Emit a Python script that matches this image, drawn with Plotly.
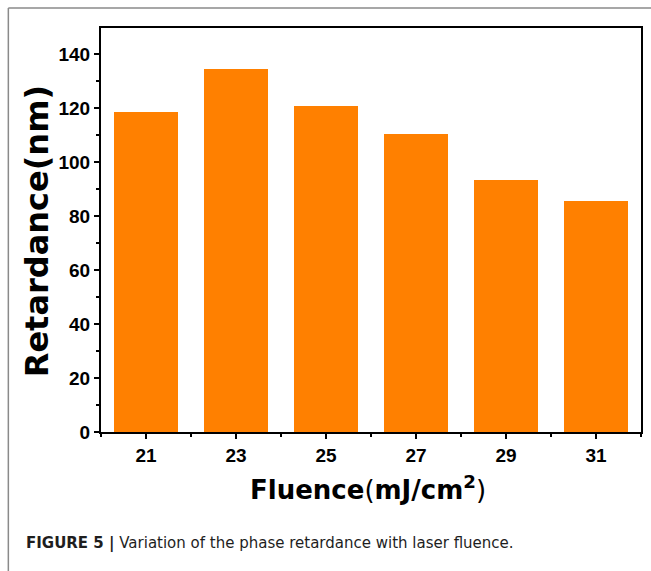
import plotly.graph_objects as go

fluence = [21, 23, 25, 27, 29, 31]
retardance = [118.6, 134.4, 120.9, 110.5, 93.2, 85.4]
x_ticks = [21, 23, 25, 27, 29, 31]
y_ticks = [0, 20, 40, 60, 80, 100, 120, 140]

W, H = 651, 571
L, R, T, B = 101, 643, 28, 432
pw, ph = R - L, B - T

def px(x):
    return (x - L) / pw

def py(y):
    return (B - y) / ph

fig = go.Figure()
fig.add_trace(go.Bar(
    x=fluence, y=retardance, width=1.43,
    marker=dict(color="#FF8000", line=dict(width=0)),
))

axis_common = dict(
    showline=True, linecolor="black", linewidth=2, mirror=True,
    ticks="outside", ticklen=5, tickwidth=2, tickcolor="black",
    showgrid=False, zeroline=False,
    tickfont=dict(family="Liberation Sans, Arial", size=19, color="black", weight="bold"),
)

fig.update_xaxes(
    range=[20, 32], tickmode="array", tickvals=x_ticks,
    ticktext=[str(v) for v in x_ticks],
    minor=dict(dtick=1, tick0=0, ticks="outside", ticklen=3, tickwidth=2, tickcolor="black"),
    **axis_common,
)
fig.update_yaxes(
    range=[0, 149.6], tickmode="array", tickvals=y_ticks,
    ticktext=[str(v) for v in y_ticks],
    minor=dict(dtick=10, tick0=0, ticks="outside", ticklen=3, tickwidth=2, tickcolor="black"),
    **axis_common,
)

annotations = [
    dict(text="<b>Retardance(nm)</b>", x=px(37), y=py(231), xref="paper", yref="paper",
         textangle=-90, showarrow=False, xanchor="center", yanchor="middle",
         font=dict(family="DejaVu Sans", size=32, color="black")),
    dict(text="<b>Fluence</b>(<b>mJ/cm<sup>2</sup></b>)", x=px(369), y=py(488), xref="paper", yref="paper",
         showarrow=False, xanchor="center", yanchor="middle",
         font=dict(family="DejaVu Sans", size=26, color="black")),
    dict(text="<b>FIGURE 5 |</b> Variation of the phase retardance with laser fluence.",
         x=px(24), y=py(543), xref="paper", yref="paper",
         showarrow=False, xanchor="left", yanchor="middle",
         font=dict(family="DejaVu Sans", size=15, color="#1e1e1e")),
]

shapes = [
    dict(type="line", xref="paper", yref="paper", x0=px(8), x1=px(700), y0=py(8), y1=py(8),
         line=dict(color="#8a8a8a", width=1.5)),
    dict(type="line", xref="paper", yref="paper", x0=px(8), x1=px(8), y0=py(8), y1=py(620),
         line=dict(color="#8a8a8a", width=1.5)),
]

fig.update_layout(
    width=W, height=H,
    margin=dict(l=L, r=W - R, t=T, b=H - B, pad=0),
    paper_bgcolor="white", plot_bgcolor="white",
    showlegend=False, annotations=annotations, shapes=shapes,
    bargap=0,
)

fig.write_html("out.html")
